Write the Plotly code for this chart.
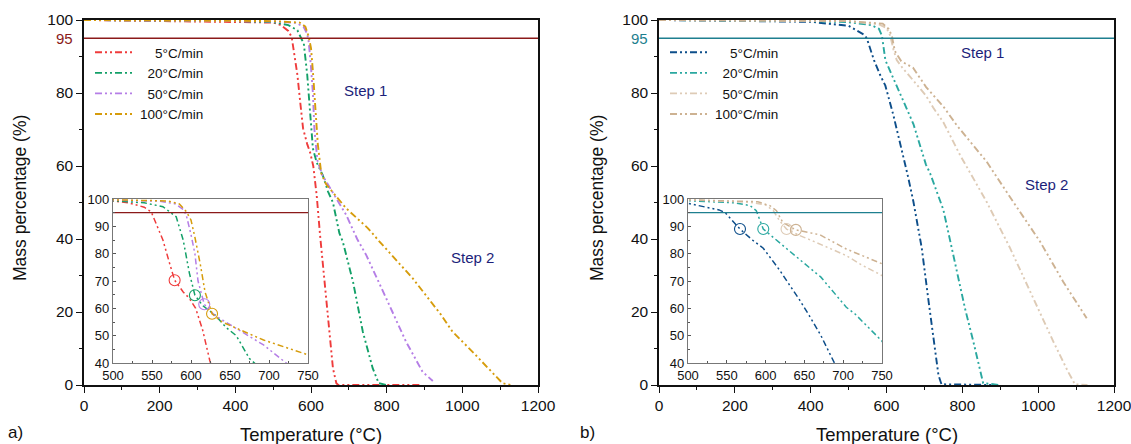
import plotly.graph_objects as go

W, H = 1131, 444

# ---------------- data: panel a) ----------------
labels = ["5°C/min", "20°C/min", "50°C/min", "100°C/min"]
legend_labels = ["\u00a0\u00a0\u00a0\u00a05°C/min", "\u00a0\u00a020°C/min", "\u00a0\u00a050°C/min", "100°C/min"]

a5_T = [0, 100, 200, 300, 400, 450, 500, 520, 540, 549, 557, 564, 572, 579, 590, 598, 606, 615, 624, 636, 649, 658, 667, 672, 887]
a5_M = [100, 99.9, 99.8, 99.7, 99.6, 99.5, 99.3, 98.6, 97.0, 95.3, 90, 85, 77, 70.3, 66, 63.6, 60, 52, 41, 28.3, 14.6, 4.6, 0.5, 0, 0]

a20_T = [0, 200, 400, 500, 540, 564, 572, 581, 590, 598, 605, 615, 631, 645, 658, 675, 684, 711, 737, 763, 779, 800]
a20_M = [100, 99.9, 99.7, 99.4, 98.6, 97.2, 95.5, 93.5, 85, 72.8, 64.8, 61, 57.5, 53, 50, 41.6, 39.3, 28.3, 14.6, 4.6, 0.5, 0]

a50_T = [0, 200, 400, 500, 560, 580, 590, 594, 600, 605, 609, 617, 630, 650, 693, 722, 746, 799, 851, 895, 922]
a50_M = [100, 99.9, 99.8, 99.6, 99.2, 98.2, 96.2, 94, 87, 80, 70, 61.5, 57.5, 54, 46.6, 40, 35.6, 23.7, 11.9, 3.6, 1.1]

a100_T = [0, 200, 400, 500, 570, 585, 594, 600, 605, 612, 618, 627, 640, 660, 693, 750, 781, 869, 944, 974, 1027, 1106, 1128]
a100_M = [100, 99.9, 99.8, 99.7, 99.3, 98.2, 95.4, 92.3, 86, 76, 66, 58, 55, 52.5, 48.4, 43, 39.3, 29.2, 19.2, 14.6, 9.1, 0.5, 0]

a_circ_T = [579, 605, 617, 627]
a_circ_M = [70.3, 64.8, 61.5, 58]

# ---------------- data: panel b) ----------------
b5_T = [0, 100, 200, 300, 400, 500, 524, 540, 548, 557, 567, 583, 597, 618, 644, 657, 671, 693, 710, 725, 737, 745, 890]
b5_M = [100, 99.9, 99.8, 99.7, 99.5, 98.4, 97, 96, 95, 92, 89, 85, 82, 74, 63, 57, 50.2, 37.5, 23.7, 11.9, 2.7, 0.2, 0]

b20_T = [0, 200, 400, 500, 560, 580, 588, 597, 622, 640, 661, 671, 704, 715, 750, 781, 807, 829, 845, 855, 899]
b20_M = [100, 99.9, 99.7, 99.4, 98.6, 97.6, 95.7, 89, 83, 78.5, 73.8, 71.5, 60.4, 58, 48, 32.9, 21, 11.9, 4.6, 0.5, 0]

b50_T = [0, 200, 400, 500, 580, 600, 610, 618, 627, 645, 662, 704, 723, 750, 794, 864, 926, 987, 1040, 1079, 1097, 1130]
b50_M = [100, 99.9, 99.8, 99.7, 98.8, 97.8, 95.7, 92, 89, 86.5, 84.5, 79.3, 76, 72, 63, 50.2, 37.5, 23.7, 11.9, 3.6, 0.2, 0]

b100_T = [0, 200, 400, 500, 590, 606, 614, 622, 639, 670, 704, 750, 785, 864, 934, 1005, 1066, 1128]
b100_M = [100, 99.9, 99.8, 99.7, 99.0, 97.5, 95.7, 91.5, 88.7, 86.9, 81.7, 76.3, 71.2, 61.2, 50.2, 39.3, 28.3, 18.3]

b_circ_T = [567, 597, 627, 639]
b_circ_M = [89, 89, 89, 88.7]

threshold = 95

cols_a = ["#ef3b3b", "#13a068", "#b57ee6", "#d69c0c"]
cols_b = ["#0d4e8a", "#2aa8a0", "#decbb6", "#cdb292"]
line95_a = "#8b1a1a"
line95_b = "#1e7f8f"
step_col = "#1c1f7a"

DASH = "7px,3px,2px,3px,2px,3px"
FONT = "Liberation Sans, Arial, sans-serif"

series_a = [(a5_T, a5_M), (a20_T, a20_M), (a50_T, a50_M), (a100_T, a100_M)]
series_b = [(b5_T, b5_M), (b20_T, b20_M), (b50_T, b50_M), (b100_T, b100_M)]

fig = go.Figure()

def add_panel(series, cols, xa_main, ya_main, xa_in, ya_in, legend_name, circ_T, circ_M, c95):
    for i, (T, M) in enumerate(series):
        fig.add_trace(go.Scatter(x=T, y=M, mode="lines", name=legend_labels[i],
                                 line=dict(color=cols[i], width=1.9, dash=DASH),
                                 xaxis=xa_main, yaxis=ya_main, legend=legend_name,
                                 showlegend=True, hoverinfo="skip"))
    fig.add_trace(go.Scatter(x=[0, 1200], y=[threshold, threshold], mode="lines",
                             line=dict(color=c95, width=1.4), xaxis=xa_main, yaxis=ya_main,
                             showlegend=False, hoverinfo="skip"))
    for i, (T, M) in enumerate(series):
        fig.add_trace(go.Scatter(x=T, y=M, mode="lines",
                                 line=dict(color=cols[i], width=1.5, dash="6px,3px,2px,3px,2px,3px"),
                                 xaxis=xa_in, yaxis=ya_in, showlegend=False, hoverinfo="skip"))
    fig.add_trace(go.Scatter(x=[500, 750], y=[threshold, threshold], mode="lines",
                             line=dict(color=c95, width=1.4), xaxis=xa_in, yaxis=ya_in,
                             showlegend=False, hoverinfo="skip"))
    for i in range(4):
        fig.add_trace(go.Scatter(x=[circ_T[i]], y=[circ_M[i]], mode="markers",
                                 marker=dict(symbol="circle-open", size=11, color=cols[i],
                                             line=dict(width=1.1, color=cols[i])),
                                 xaxis=xa_in, yaxis=ya_in, showlegend=False, hoverinfo="skip"))

add_panel(series_a, cols_a, "x", "y", "x3", "y3", "legend", a_circ_T, a_circ_M, line95_a)
add_panel(series_b, cols_b, "x2", "y2", "x4", "y4", "legend2", b_circ_T, b_circ_M, line95_b)

def main_x(domain, anchor):
    return dict(domain=domain, range=[0, 1200], anchor=anchor, showgrid=False, zeroline=False,
                showline=True, linecolor="#111", linewidth=1.5, mirror=True,
                ticks="outside", ticklen=6, tickwidth=1.3, tickcolor="#111",
                tickvals=[0, 200, 400, 600, 800, 1000, 1200], automargin=False,
                ticklabeloverflow="allow",
                minor=dict(ticks="outside", ticklen=3, tickwidth=1.2, tickcolor="#111", dtick=100, tick0=0),
                tickfont=dict(size=15.5, color="#111", family=FONT))

def main_y(domain, anchor):
    return dict(domain=domain, range=[0, 100], anchor=anchor, showgrid=False, zeroline=False,
                showline=True, linecolor="#111", linewidth=1.5, mirror=True,
                ticks="outside", ticklen=6, tickwidth=1.3, tickcolor="#111",
                tickvals=[0, 20, 40, 60, 80, 100], automargin=False,
                ticklabeloverflow="allow",
                minor=dict(ticks="outside", ticklen=3, tickwidth=1.2, tickcolor="#111", dtick=10, tick0=0),
                tickfont=dict(size=15.5, color="#111", family=FONT))

def in_x(domain, anchor):
    return dict(domain=domain, range=[500, 750], anchor=anchor, showgrid=False, zeroline=False,
                showline=True, linecolor="#777", linewidth=1.2, mirror=True,
                ticks="inside", ticklen=3, tickwidth=1, tickcolor="#555",
                tickvals=[500, 550, 600, 650, 700, 750], automargin=False,
                minor=dict(ticks="inside", ticklen=2, tickcolor="#555", dtick=25, tick0=500),
                tickfont=dict(size=13, color="#111", family=FONT))

def in_y(domain, anchor):
    return dict(domain=domain, range=[40, 100], anchor=anchor, showgrid=False, zeroline=False,
                showline=True, linecolor="#777", linewidth=1.2, mirror=True,
                ticks="inside", ticklen=3, tickwidth=1, tickcolor="#555",
                tickvals=[40, 50, 60, 70, 80, 90, 100], automargin=False,
                minor=dict(ticks="inside", ticklen=2, tickcolor="#555", dtick=5, tick0=40),
                tickfont=dict(size=13, color="#111", family=FONT))

ydom_main = [1 - 385 / H, 1 - 20 / H]
ydom_in = [1 - 363 / H, 1 - 199 / H]

leg_common = dict(xanchor="left", yanchor="top", bgcolor="rgba(0,0,0,0)",
                  font=dict(size=13.5, family=FONT, color="#111"),
                  tracegroupgap=0, itemwidth=40)

fig.update_layout(
    width=W, height=H, margin=dict(l=0, r=0, t=0, b=0, pad=0, autoexpand=False),
    paper_bgcolor="white", plot_bgcolor="white",
    font=dict(family=FONT, color="#111"),
    xaxis=main_x([84 / W, 538 / W], "y"),
    yaxis=main_y(ydom_main, "x"),
    xaxis2=main_x([659 / W, 1114 / W], "y2"),
    yaxis2=main_y(ydom_main, "x2"),
    xaxis3=in_x([113 / W, 308 / W], "y3"),
    yaxis3=in_y(ydom_in, "x3"),
    xaxis4=in_x([688 / W, 882 / W], "y4"),
    yaxis4=in_y(ydom_in, "x4"),
    legend=dict(x=90 / W, y=1 - 37 / H, **leg_common),
    legend2=dict(x=665 / W, y=1 - 37 / H, **leg_common),
    showlegend=True,
)

ann = []
ann.append(dict(x=0, y=threshold, xref="x", yref="y", text="95", showarrow=False,
                xanchor="right", xshift=-9, font=dict(size=15, color=line95_a, family=FONT)))
ann.append(dict(x=0, y=threshold, xref="x2", yref="y2", text="95", showarrow=False,
                xanchor="right", xshift=-9, font=dict(size=15, color=line95_b, family=FONT)))
ann.append(dict(x=744, y=80.8, xref="x", yref="y", text="Step 1", showarrow=False,
                xanchor="center", font=dict(size=15, color=step_col, family=FONT)))
ann.append(dict(x=1026, y=35, xref="x", yref="y", text="Step 2", showarrow=False,
                xanchor="center", font=dict(size=15, color=step_col, family=FONT)))
ann.append(dict(x=852, y=91, xref="x2", yref="y2", text="Step 1", showarrow=False,
                xanchor="center", font=dict(size=15, color=step_col, family=FONT)))
ann.append(dict(x=1022, y=55, xref="x2", yref="y2", text="Step 2", showarrow=False,
                xanchor="center", font=dict(size=15, color=step_col, family=FONT)))
for xc in [311 / W, 887 / W]:
    ann.append(dict(x=xc, y=1 - 434 / H, xref="paper", yref="paper", text="Temperature (°C)",
                    xanchor="center", yanchor="middle",
                    showarrow=False, font=dict(size=18.5, family=FONT, color="#111")))
for xc in [20 / W, 597 / W]:
    ann.append(dict(x=xc, y=1 - 198 / H, xref="paper", yref="paper", text="Mass percentage (%)",
                    xanchor="center", yanchor="middle",
                    showarrow=False, textangle=-90, font=dict(size=17.5, family=FONT, color="#111")))
ann.append(dict(x=15 / W, y=1 - 432 / H, xref="paper", yref="paper", text="a)", showarrow=False,
                xanchor="center", yanchor="middle", font=dict(size=17, family=FONT, color="#111")))
ann.append(dict(x=587 / W, y=1 - 432 / H, xref="paper", yref="paper", text="b)", showarrow=False,
                xanchor="center", yanchor="middle", font=dict(size=17, family=FONT, color="#111")))
fig.update_layout(annotations=ann)

fig.write_html("out.html")
